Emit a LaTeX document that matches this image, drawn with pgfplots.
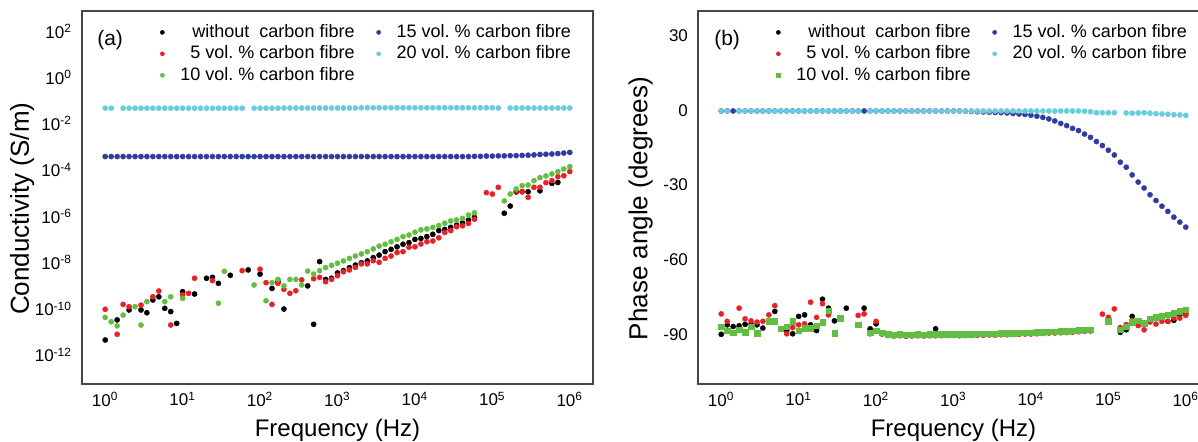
\documentclass[border=0pt]{standalone}
\usepackage{fontspec}
\setmainfont{Liberation Sans}
\usepackage{pgfplots}
\usepackage{pgfplotstable}
\pgfplotsset{compat=1.18}

\definecolor{cRed}{RGB}{232,32,40}
\definecolor{cGrn}{RGB}{98,190,66}
\definecolor{cBlu}{RGB}{48,60,160}
\definecolor{cCyn}{RGB}{106,202,222}
\definecolor{frame}{RGB}{70,70,70}

% log10 of frequency (Hz) and log10 of conductivity (S/m)
\pgfplotstableread{
lf    blk     red     grn     blu    cyn
0.000 -11.35  -10.02  -10.37  -3.42  -1.33
0.077 nan     nan     -10.56  -3.42  -1.33
0.154 -10.48  -11.10  -10.74  -3.42  nan
0.231 nan     -9.81   -10.27  -3.42  -1.33
0.308 -10.05  -9.91   nan     -3.42  -1.33
0.385 nan     nan     -9.91   -3.42  -1.33
0.462 -10.05  -9.84   -10.70  -3.42  -1.33
0.538 -10.17  nan     -9.69   -3.42  -1.33
0.615 -9.62   -9.48   nan     -3.42  -1.33
0.692 -9.48   -9.23   nan     -3.42  -1.33
0.769 -9.98   nan     -9.69   -3.42  -1.33
0.846 -10.12  -10.70  -9.48   -3.42  -1.33
0.923 -10.63  nan     nan     -3.42  -1.33
1.000 -9.26   -9.40   -9.55   -3.42  -1.33
1.077 nan     -9.33   nan     -3.42  -1.33
1.154 -9.36   -8.68   nan     -3.42  -1.33
1.231 nan     nan     nan     -3.42  -1.33
1.308 -8.68   nan     nan     -3.42  -1.33
1.385 -8.64   -8.78   nan     -3.42  -1.33
1.462 -8.90   nan     -9.76   -3.42  -1.33
1.538 nan     nan     -8.38   -3.42  -1.33
1.615 -8.55   nan     nan     -3.42  -1.33
1.692 nan     nan     nan     -3.42  -1.33
1.769 nan     -8.35   nan     -3.42  -1.33
1.846 -8.32   nan     nan     -3.42  nan
1.923 nan     nan     -8.97   -3.42  -1.33
2.000 -8.50   -8.29   nan     -3.42  -1.33
2.077 nan     -8.87   -9.65   -3.42  -1.33
2.154 -9.12   -9.81   -8.87   -3.42  -1.33
2.231 -8.83   -8.90   -8.73   -3.42  -1.33
2.308 -10.01  -9.16   -9.01   -3.42  -1.32
2.385 nan     -9.33   -8.73   -3.42  -1.32
2.462 nan     -9.22   -8.73   -3.42  -1.32
2.538 nan     -8.75   -8.97   -3.42  -1.32
2.615 -9.01   nan     -8.37   -3.42  -1.32
2.692 -10.67  -8.70   -8.50   -3.42  -1.32
2.769 -7.96   -8.64   -8.35   -3.42  -1.32
2.846 -8.73   -8.83   -8.22   -3.42  -1.32
2.923 -8.68   -8.73   -8.12   -3.42  -1.32
3.000 -8.45   -8.57   -8.03   -3.42  -1.32
3.077 -8.35   -8.40   -7.93   -3.42  -1.32
3.154 -8.22   -8.32   -7.82   -3.42  -1.32
3.231 -8.11   -8.21   -7.72   -3.42  -1.32
3.308 -8.01   -8.06   -7.63   -3.42  -1.31
3.385 -7.93   -8.06   -7.53   -3.42  -1.31
3.462 -7.79   -7.92   -7.41   -3.42  -1.31
3.538 -7.68   -7.99   -7.29   -3.42  -1.31
3.615 -7.53   -7.82   -7.21   -3.42  -1.31
3.692 -7.43   -7.72   -7.10   -3.42  -1.31
3.769 -7.32   -7.57   -7.00   -3.42  -1.31
3.846 -7.21   -7.53   -6.88   -3.42  -1.31
3.923 -7.14   -7.34   -6.81   -3.42  -1.31
4.000 -7.00   -7.32   -6.69   -3.42  -1.31
4.077 -6.96   -7.20   -6.59   -3.42  -1.31
4.154 -6.88   -7.10   -6.55   -3.42  -1.31
4.231 -6.78   -7.07   -6.48   -3.42  -1.31
4.308 -6.62   -6.93   -6.40   -3.42  -1.31
4.385 -6.57   -6.70   -6.30   -3.42  -1.31
4.462 -6.48   -6.62   -6.20   -3.42  -1.31
4.538 -6.38   -6.45   -6.16   -3.42  -1.31
4.615 -6.28   -6.41   -6.09   -3.42  -1.31
4.692 -6.16   -6.31   -5.95   -3.42  -1.31
4.769 -6.05   -6.13   -5.85   -3.41  -1.31
4.846 nan     nan     nan     -3.41  -1.31
4.923 nan     -4.98   nan     -3.40  -1.31
5.000 nan     -5.04   nan     -3.40  -1.31
5.077 nan     -4.75   nan     -3.39  -1.32
5.154 -5.87   nan     -5.34   -3.39  nan
5.231 -5.56   nan     -5.04   -3.38  -1.32
5.308 -4.95   -4.91   -4.82   -3.38  -1.32
5.385 -4.94   -4.94   -4.68   -3.37  -1.32
5.462 -4.94   -5.18   -4.65   -3.36  -1.32
5.538 nan     -4.75   -4.46   -3.35  -1.32
5.615 -4.90   -4.75   -4.33   -3.33  -1.32
5.692 nan     -4.55   -4.26   -3.32  -1.32
5.769 -4.58   -4.46   -4.17   -3.31  -1.32
5.846 -4.54   -4.29   -4.07   -3.29  -1.32
5.923 nan     -4.25   -3.96   -3.27  -1.32
6.000 nan     -4.07   -3.86   -3.24  -1.32
}\tabA

% log10 of frequency (Hz) and phase angle (degrees)
\pgfplotstableread{
lf    blk    red    grn    blu    cyn
0.000 -90.0  -81.8  -86.9  -0.2   -0.2
0.077 -86.2  -84.8  -88.6  -0.2   -0.2
0.154 -86.9  nan    -89.3  -0.2   nan
0.231 -86.6  -79.5  -88.2  -0.2   -0.2
0.308 -86.0  -83.8  -89.1  -0.2   -0.2
0.385 -85.9  -84.6  -86.9  -0.2   -0.2
0.462 -86.2  -85.1  -89.5  -0.2   -0.2
0.538 -87.5  -84.8  nan    -0.2   -0.2
0.615 nan    -82.2  -84.8  -0.2   -0.2
0.692 -80.8  -78.5  -84.8  -0.2   -0.2
0.769 nan    nan    -87.8  -0.2   -0.2
0.846 -88.5  -89.8  -86.9  -0.2   -0.2
0.923 -89.8  -87.3  -84.8  -0.2   -0.2
1.000 -82.8  -86.2  -88.5  -0.2   -0.2
1.077 -82.2  -85.8  -87.5  -0.2   -0.2
1.154 -86.2  -77.1  -87.5  -0.2   -0.2
1.231 -88.5  -83.2  -86.5  -0.2   -0.2
1.308 -75.9  -77.7  -85.2  -0.2   -0.2
1.385 -79.5  -82.2  -80.4  -0.2   -0.2
1.462 -84.6  nan    -89.5  -0.2   -0.2
1.538 nan    nan    -83.5  -0.2   -0.2
1.615 -79.5  nan    nan    -0.2   -0.2
1.692 nan    nan    nan    -0.2   -0.2
1.769 nan    -82.4  -86.2  -0.2   -0.2
1.846 -79.5  -81.8  nan    -0.2   nan
1.923 -87.8  -89.8  -89.3  -0.2   -0.2
2.000 -85.8  -84.8  -88.5  -0.2   -0.2
2.077 -89.4  -89.9  -89.3  -0.2   -0.2
2.154 -90.0  -90.5  -89.9  -0.2   -0.2
2.231 -90.2  -90.7  -90.1  -0.2   -0.2
2.308 -90.1  -90.6  -90.0  -0.2   -0.2
2.385 -90.3  -90.8  -90.2  -0.2   -0.2
2.462 -90.2  -90.7  -90.1  -0.2   -0.2
2.538 -90.1  -90.6  -90.0  -0.2   -0.2
2.615 -90.2  -90.7  -90.1  -0.2   -0.2
2.692 -90.1  -90.6  -90.0  -0.2   -0.2
2.769 -87.8  -90.6  -90.0  -0.2   -0.2
2.846 -90.1  -90.6  -90.0  -0.2   -0.2
2.923 -90.0  -90.5  -89.9  -0.2   -0.2
3.000 -90.0  -90.5  -89.9  -0.2   -0.2
3.077 -90.1  -90.6  -90.0  -0.2   -0.2
3.154 -90.0  -90.5  -89.9  -0.3   -0.2
3.231 -90.0  -90.5  -89.9  -0.4   -0.2
3.308 -89.9  -90.4  -89.8  -0.5   -0.2
3.385 -89.9  -90.4  -89.8  -0.6   -0.2
3.462 -89.8  -90.3  -89.7  -0.7   -0.2
3.538 -89.8  -90.3  -89.7  -0.8   -0.2
3.615 -89.7  -90.2  -89.6  -0.9   -0.2
3.692 -89.7  -90.2  -89.6  -1.0   -0.2
3.769 -89.6  -90.1  -89.5  -1.2   -0.2
3.846 -89.5  -90.0  -89.4  -1.4   -0.2
3.923 -89.4  -89.9  -89.3  -1.6   -0.2
4.000 -89.4  -89.9  -89.3  -1.9   -0.2
4.077 -89.3  -89.8  -89.2  -2.3   -0.2
4.154 -89.2  -89.7  -89.1  -2.8   -0.2
4.231 -89.0  -89.5  -88.9  -3.4   -0.2
4.308 -89.0  -89.5  -88.9  -4.2   -0.2
4.385 -88.9  -89.4  -88.8  -5.2   -0.2
4.462 -88.8  -89.3  -88.7  -6.1   -0.2
4.538 -88.7  -89.2  -88.6  -7.2   -0.2
4.615 -88.5  -89.0  -88.4  -8.1   -0.2
4.692 -88.3  -88.8  -88.2  -9.5   -0.3
4.769 -88.2  -88.7  -88.1  -10.8  -0.5
4.846 nan    nan    nan    -12.5  -0.9
4.923 nan    -81.9  nan    -14.1  -0.9
5.000 nan    -83.2  -84.8  -16.0  -0.9
5.077 nan    -79.8  nan    -17.9  -0.9
5.154 -89.2  -87.3  -88.2  -20.8  nan
5.231 -88.2  -86.1  -86.9  -22.8  -1.0
5.308 -82.8  -84.4  -85.1  -25.9  -1.1
5.385 -84.6  -86.5  -84.6  -28.8  -1.0
5.462 -85.5  -88.2  -85.5  -31.2  -0.9
5.538 -83.8  -85.1  -83.8  -33.9  -1.1
5.615 -83.2  -85.9  -83.2  -36.2  -1.3
5.692 -82.8  -84.8  -82.8  -38.5  -1.4
5.769 -84.8  -84.8  -82.2  -40.6  -1.5
5.846 -84.4  -83.5  -81.5  -42.9  -1.7
5.923 -82.2  -83.5  -80.8  -44.9  -1.8
6.000 -81.6  -82.4  -80.2  -46.9  -2.0
}\tabB

\pgfplotsset{
  panel/.style={
    width=255.5pt, height=186.5pt, scale only axis,
    xmin=-0.30, xmax=6.30,
    xtick={0,1,2,3,4,5,6},
    xticklabels={10\textsuperscript{0},10\textsuperscript{1},10\textsuperscript{2},10\textsuperscript{3},10\textsuperscript{4},10\textsuperscript{5},10\textsuperscript{6}},
    major tick length=0pt,
    axis line style={draw=frame, line width=0.75pt},
    ticklabel style={font=\fontsize{8.5}{10}\selectfont},
    yticklabel style={xshift=-1.5pt},
    xticklabel style={yshift=-0.5pt},
    label style={font=\fontsize{12}{14}\selectfont},
    ylabel style={font=\fontsize{13}{15}\selectfont},
    xlabel={Frequency (Hz)},
    xlabel style={at={(axis description cs:0.5,-0.125)}, anchor=center},
    legend columns=3, transpose legend, legend cell align=right,
    legend style={at={(0.975,0.984)}, anchor=north east, draw=none, fill=none,
      font=\fontsize{9}{10}\selectfont, row sep=-0.3pt,
      nodes={inner sep=1.5pt},
      /tikz/every odd column/.append style={column sep=6.5pt},
      /tikz/every even column/.append style={column sep=2pt}},
    legend image post style={mark size=1.05pt},
    every axis plot/.append style={only marks, mark size=1.3pt,
      mark options={line width=0.2pt}},
  }
}

\begin{document}
\begin{tikzpicture}
\begin{axis}[panel, at={(41pt,28.5pt)},
    ymin=-13.25, ymax=2.87,
    ytick={-12,-10,-8,-6,-4,-2,0,2},
    yticklabels={10\textsuperscript{-12},10\textsuperscript{-10},10\textsuperscript{-8},10\textsuperscript{-6},10\textsuperscript{-4},10\textsuperscript{-2},10\textsuperscript{0},10\textsuperscript{2}},
    ylabel={Conductivity (S/m)},
    ylabel style={at={(axis description cs:-0.117,0.47)}, anchor=center}]
\addplot[black, mark=*] table[x=lf, y=blk] {\tabA};
\addplot[cRed, mark=*] table[x=lf, y=red] {\tabA};
\addplot[cGrn, mark=*] table[x=lf, y=grn] {\tabA};
\addplot[cBlu, mark=*] table[x=lf, y=blu] {\tabA};
\addplot[cCyn, mark=*] table[x=lf, y=cyn] {\tabA};
\addlegendentry{without\ \ carbon fibre}
\addlegendentry{5 vol.\ \% carbon fibre}
\addlegendentry{10 vol.\ \% carbon fibre}
\addlegendentry{15 vol.\ \% carbon fibre}
\addlegendentry{20 vol.\ \% carbon fibre}
\addlegendimage{empty legend}
\addlegendentry{}
\node[font=\fontsize{10.5}{12}\selectfont] at (axis description cs:0.055,0.922) {(a)};
\end{axis}

\begin{axis}[panel, at={(349pt,28.5pt)},
    ymin=-110, ymax=40,
    ytick={-90,-60,-30,0,30},
    yticklabels={-90,-60,-30,0,30},
    ylabel={Phase angle (degrees)},
    ylabel style={at={(axis description cs:-0.112,0.47)}, anchor=center}]
\addplot[black, mark=*] table[x=lf, y=blk] {\tabB};
\addplot[cRed, mark=*] table[x=lf, y=red] {\tabB};
\addplot[cGrn, mark=square*, mark size=1.35pt] table[x=lf, y=grn] {\tabB};
\addplot[cBlu, mark=*] table[x=lf, y=blu] {\tabB};
\addplot[cCyn, mark=*] table[x=lf, y=cyn] {\tabB};
\addlegendentry{without\ \ carbon fibre}
\addlegendentry{5 vol.\ \% carbon fibre}
\addlegendentry{10 vol.\ \% carbon fibre}
\addlegendentry{15 vol.\ \% carbon fibre}
\addlegendentry{20 vol.\ \% carbon fibre}
\addlegendimage{empty legend}
\addlegendentry{}
\node[font=\fontsize{10.5}{12}\selectfont] at (axis description cs:0.057,0.922) {(b)};
\end{axis}
\pgfresetboundingbox
\useasboundingbox (0,0) rectangle (599pt,220.5pt);
\end{tikzpicture}
\end{document}
